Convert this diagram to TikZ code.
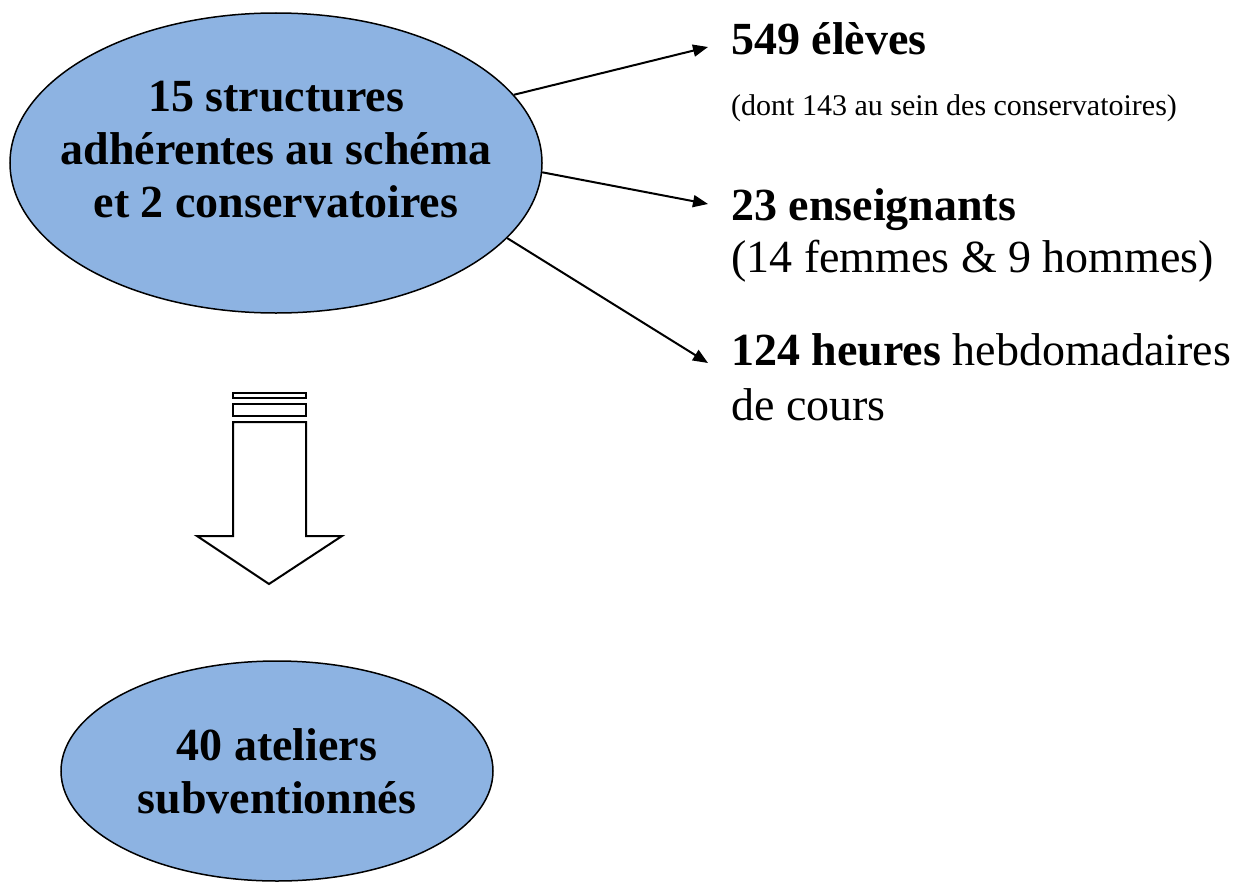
\documentclass[tikz,border=0pt]{standalone}
\usepackage{fontspec}
\setmainfont{Liberation Serif}
\usetikzlibrary{shapes.geometric,arrows.meta}
\definecolor{ellblue}{RGB}{141,179,226}
\begin{document}
\begin{tikzpicture}[x=1pt,y=-1pt,
  blob/.style={ellipse, draw=black, line width=1.5pt, fill=ellblue, inner sep=0pt},
  bigr/.style={font=\fontsize{46}{53}\selectfont},
  bigb/.style={font=\fontsize{46}{53}\selectfont\bfseries},
  smallr/.style={font=\fontsize{30}{35}\selectfont},
  txt/.style={anchor=base west, inner sep=0pt},
  link/.style={-{Triangle[length=15pt,width=12pt]}, line width=2pt},
  outl/.style={draw=black, line width=2pt, fill=white, line join=miter}]
\useasboundingbox (0,0) rectangle (1250,883);
% ellipses
\node[blob, minimum width=532pt, minimum height=300pt] (e1) at (276,163) {};
\node[bigb, align=center, inner sep=0pt] (t1) at (276,150) {15 structures\\adhérentes au schéma\\et 2 conservatoires};
\node[blob, minimum width=432pt, minimum height=220pt] (e2) at (277,771) {};
\node[bigb, align=center, inner sep=0pt] (t2) at (277,771) {40 ateliers\\subventionnés};
% right texts
\node[bigb, txt] (r1) at (731,55) {549 élèves};
\node[smallr, txt] (r1b) at (731,115) {(dont 143 au sein des conservatoires)};
\node[bigb, txt] (r2) at (731,220) {23 enseignants};
\node[bigr, txt] (r2b) at (731,272) {(14 femmes \& 9 hommes)};
\node[bigr, txt] (r3) at (731,365) {\textbf{124 heures} hebdomadaires};
\node[bigr, txt] (r3b) at (731,420) {de cours};
% arrow tips
\coordinate (a1) at (708,47);
\coordinate (a2) at (708,204);
\coordinate (a3) at (708,363);
\draw[link] (e1.16) -- (a1);
\draw[link] (e1.-2.6) -- (a2);
\draw[link] (e1.-18.6) -- (a3);
% block arrow
\draw[outl] (233,393) rectangle (306,398);
\draw[outl] (233,404) rectangle (306,416);
\draw[outl] (233,422) -- (306,422) -- (306,536) -- (342,536) -- (269,584) -- (197,536) -- (233,536) -- cycle;
\end{tikzpicture}
\end{document}
